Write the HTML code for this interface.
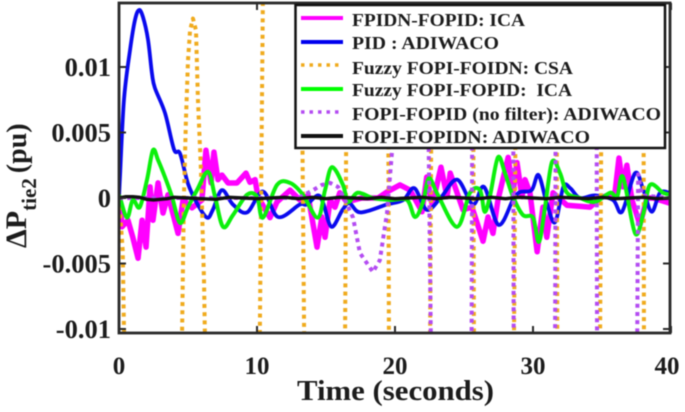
<!DOCTYPE html>
<html>
<head>
<meta charset="utf-8">
<title>Tie-line power deviation chart</title>
<style>
html,body{margin:0;padding:0;background:#fff;width:685px;height:412px;overflow:hidden}
svg{display:block;filter:blur(0.6px)}
text{font-family:"Liberation Serif",serif;font-weight:bold;fill:#1c1c1c}
</style>
</head>
<body>
<svg id="chart" xmlns="http://www.w3.org/2000/svg" width="685" height="412" viewBox="0 0 685 412">
  <defs><clipPath id="plot-clip"><rect x="119" y="3" width="551" height="330"/></clipPath></defs>
  <rect x="0" y="0" width="685" height="412" fill="#fff"/>
  <g id="series" clip-path="url(#plot-clip)"></g>
  <g id="axes"></g>
  <text x="297" y="400" font-size="29" textLength="197" lengthAdjust="spacingAndGlyphs">Time (seconds)</text>
  <text transform="translate(26,248) rotate(-90)" font-size="30">ΔP<tspan font-size="21" dy="10">tie2</tspan><tspan dy="-10" dx="5" font-size="28">(pu)</tspan></text>
  <g>
    <rect x="295.5" y="5" width="369.5" height="143" fill="#fff" stroke="#111" stroke-width="2.5"/>
    <line x1="301" x2="343" y1="18" y2="18" stroke="#ff00ff" stroke-width="4"/>
    <text x="352" y="26" font-size="18" textLength="173" lengthAdjust="spacingAndGlyphs">FPIDN-FOPID: ICA</text>
    <line x1="301" x2="343" y1="42" y2="42" stroke="#0000ee" stroke-width="4"/>
    <text x="352" y="49" font-size="18" textLength="147" lengthAdjust="spacingAndGlyphs">PID : ADIWACO</text>
    <line x1="301" x2="343" y1="65" y2="65" stroke="#f0ab1e" stroke-width="3.5" stroke-dasharray="3.5 5"/>
    <text x="352" y="74" font-size="18" textLength="221" lengthAdjust="spacingAndGlyphs">Fuzzy FOPI-FOIDN: CSA</text>
    <line x1="301" x2="343" y1="89" y2="89" stroke="#00ff00" stroke-width="4"/>
    <text x="352" y="96" font-size="18" textLength="220" lengthAdjust="spacingAndGlyphs" xml:space="preserve">Fuzzy FOPI-FOPID:  ICA</text>
    <line x1="301" x2="343" y1="112" y2="112" stroke="#b44cf2" stroke-width="3.5" stroke-dasharray="3.5 5"/>
    <text x="352" y="120" font-size="18" textLength="309" lengthAdjust="spacingAndGlyphs">FOPI-FOPID (no filter): ADIWACO</text>
    <line x1="301" x2="343" y1="136" y2="136" stroke="#111" stroke-width="4"/>
    <text x="352" y="143" font-size="18" textLength="238" lengthAdjust="spacingAndGlyphs">FOPI-FOPIDN: ADIWACO</text>
  </g>
</svg>
<script>
// All deviation values are in units of 0.001 pu; times are in seconds.
const xTickValues = [0, 10, 20, 30, 40];
const xTickLabels = ['0', '10', '20', '30', '40'];
const yTickValues = [-10, -5, 0, 5, 10];
const yTickLabels = ['-0.01', '-0.005', '0', '0.005', '0.01'];

const magentaTimes = [0,.07,.22,.65,1,1.38,1.67,1.96,2.25,2.46,2.83,3.19,3.55,4.28,4.64,5.29,6.01,6.3,6.67,6.88,7.17,7.46,7.9,8.55,9.2,9.49,9.86,10.07,10.94,11.45,12.4,13.1,13.7,14.35,14.7,14.93,15.3,15.65,16,16.5,17.6,18.77,19.4,20.36,21.1,21.96,22.3,22.7,23.33,23.77,24,24.93,25.58,26.38,26.74,27.1,27.46,28.2,28.55,28.84,29.2,29.42,29.78,30.3,30.72,31,31.45,32.46,34.13,34.86,35.94,36.23,36.52,36.8,37.17,37.75,38.26,38.7,39.93];
const magentaValues = [0,0,-2.2,-1.7,-3,-4.6,-1.7,-3.75,.85,-1.7,1.15,-1.15,.25,-2.7,-.15,-.75,-.15,3.65,1.15,3.5,1.4,1.75,1.15,1.15,1.9,1.2,1.4,.1,-1.5,-.3,.6,-.15,.2,-3.75,-1.45,-3,-.15,-.7,.4,-.3,0,0,.45,1,.6,-1.05,1.6,-.55,2.35,.1,1.9,-.9,-.7,-3.3,-1.45,-2.7,-.15,3.1,.4,2.7,.1,1.4,.4,-4.1,-.7,-3,.4,-.55,-.7,0,.4,3.05,.85,2.5,-.15,-2.05,0,0,-.4];

const blueTimes = [0,.07,.36,.8,1.16,1.45,1.74,2.1,2.39,2.6,3.33,3.99,4.42,5,5.65,6.38,6.8,7.46,8.26,9.28,10.43,11.52,13.1,13.6,14.4,14.8,15.4,16.2,16.7,17.5,19.4,20.6,21.4,22.3,23.3,24.5,25.65,26.45,27.5,28.55,29.05,29.9,30.4,31,31.6,32.2,32.7,33.4,34.5,35.8,36.45,37.4,38,38.6,39.2,39.9];
const blueValues = [0,1.6,7.5,11.3,13.6,14.35,13.8,12.1,9.5,8.4,6.5,3.7,3.4,1.1,-.4,-1.5,-.9,.6,-.5,-1.1,.5,-1.45,-.5,-.5,.2,-.4,-2.2,-.9,-.4,-1.1,-.5,-.15,.75,-.9,0,1.4,-.5,.85,-2.05,-.15,.45,.6,1.75,-.4,-1.85,.85,.75,0,.2,-.15,-1.05,1.9,.6,-1.05,.4,.4];

const orangeTimes = [0,.27,.36,.45,4.5,4.57,4.7,4.85,5,5.15,5.36,5.58,5.72,5.94,6.16,6.23,6.3,10.2,10.43,13.2,13.42,16.38,16.52,19.49,19.56,22.54,22.68,25.65,25.72,28.62,28.8,31.7,31.76,34.86,35,38,38.04,40];
const orangeValues = [0,-4,-10,-12,-12,-10.3,-.15,5.95,10.5,12.8,13.7,12.8,7.5,2.1,-6.3,-10.8,-12,-11,15.5,15.5,-11,-11,15.5,15.5,-11,-11,15.5,15.5,-11,-11,15.5,15.5,-11,-11,15.5,15.5,-11,-11];

const greenTimes = [0,.05,.58,1,1.5,2.03,2.46,2.83,3.33,3.84,4.42,5,5.65,6.45,6.96,7.54,8.26,9.28,10,10.43,11.45,12.4,13.33,14.4,14.93,15.43,16.23,16.6,17.3,18.4,19.64,20.87,21.45,22.03,22.46,23.1,24.5,25.43,26.16,26.5,26.9,27.46,27.97,28.55,29.27,30,30.43,30.87,31.38,31.96,32.46,33.4,34.5,35.58,36.1,36.52,37.4,38,38.48,39.42,39.93];
const greenValues = [0,.1,-1.5,-.15,-.7,1.4,3.65,2.9,1.6,.1,-1.9,-.7,.6,2,.1,-2.2,-1.3,.25,.1,-1.5,1,1.15,.25,-1.5,.6,2.35,1,-.3,.4,0,-.15,-.15,-1.45,-.3,1.5,.25,-2.2,.4,.6,-1.05,.25,3.1,1.9,.1,-1.3,-1.5,-3.35,-.7,2.75,1.9,.4,0,-.3,.4,.1,1.6,-2.7,-1.15,1,.4,.25];

const purpleTimes = [0,13,14.06,14.7,15.3,15.87,16.38,16.96,17.46,18.4,18.9,19.42,19.78,19.88,20,20.2,22.32,22.6,25.55,25.62,28.55,28.6,31.6,31.66,34.6,34.64,37.55,37.62,37.9,40];
const purpleValues = [0,0,.6,1,1.15,.85,-.15,-1.5,-4.2,-5.65,-4.75,-1.15,3.5,7.5,13.6,15.5,15.5,-11,-11,15.5,15.5,-11,-11,15.5,15.5,-11,-11,1.8,.2,0];

const blackTimes = [0,.5,1,1.5,2,2.5,3,3.5,4,5,6,7,8,9,10,11,12,13,14,15,16,17,18,19,20,21,22,23,24,25,26,27,28,29,30,31,32,33,34,35,36,37,38,39,40];
const blackValues = [0,.1,.1,.05,-.1,-.15,-.1,-.05,.05,0,-.05,-.1,.05,0,-.05,0,.05,-.05,.05,-.05,.05,0,-.05,.05,-.05,0,.05,-.05,.05,0,-.05,.05,-.05,.05,0,-.05,.05,0,-.05,.05,-.05,0,.05,-.05,0];

const svgNS = 'http://www.w3.org/2000/svg';
const seriesGroup = document.getElementById('series');
const axesGroup = document.getElementById('axes');

function xScale(t) { return 119 + t * 13.8; }
function yScale(v) { return 198 - v * 13.1; }

function pathFrom(times, values, smooth) {
  const px = times.map(xScale);
  const py = values.map(yScale);
  let d = 'M' + px[0].toFixed(2) + ' ' + py[0].toFixed(2);
  for (let i = 1; i < px.length; i++) {
    if (smooth) {
      const a = Math.max(i - 2, 0);
      const b = Math.min(i + 1, px.length - 1);
      const c1x = px[i - 1] + (px[i] - px[a]) / 6;
      const c1y = py[i - 1] + (py[i] - py[a]) / 6;
      const c2x = px[i] - (px[b] - px[i - 1]) / 6;
      const c2y = py[i] - (py[b] - py[i - 1]) / 6;
      d += 'C' + c1x.toFixed(2) + ' ' + c1y.toFixed(2) + ' ' + c2x.toFixed(2) + ' ' + c2y.toFixed(2) + ' ' + px[i].toFixed(2) + ' ' + py[i].toFixed(2);
    } else {
      d += 'L' + px[i].toFixed(2) + ' ' + py[i].toFixed(2);
    }
  }
  return d;
}

function drawSeries(name, times, values, color, width, dash, smooth) {
  const path = document.createElementNS(svgNS, 'path');
  
  
  path.setAttribute('d', pathFrom(times, values, smooth));
  path.setAttribute('fill', 'none');
  path.setAttribute('stroke', color);
  path.setAttribute('stroke-width', width);
  path.setAttribute('stroke-linejoin', 'round');
  if (dash) path.setAttribute('stroke-dasharray', dash);
  seriesGroup.appendChild(path);
}

drawSeries('series-fpidn-fopid-ica', magentaTimes, magentaValues, '#ff00ff', 5.5, null, false);
drawSeries('series-pid-adiwaco', blueTimes, blueValues, '#0a0aee', 3.8, null, true);
drawSeries('series-fuzzy-fopi-foidn-csa', orangeTimes, orangeValues, '#f0ab1e', 4, '4 4.2', false);
drawSeries('series-fuzzy-fopi-fopid-ica', greenTimes, greenValues, '#0cf00c', 4, null, true);
drawSeries('series-fopi-fopid-no-filter', purpleTimes, purpleValues, '#b44cf2', 4, '4 4.2', false);
drawSeries('series-fopi-fopidn-adiwaco', blackTimes, blackValues, '#111111', 3.4, null, false);

function addLine(name, x1, y1, x2, y2, width) {
  const line = document.createElementNS(svgNS, 'line');
  
  
  line.setAttribute('x1', x1);
  line.setAttribute('y1', y1);
  line.setAttribute('x2', x2);
  line.setAttribute('y2', y2);
  line.setAttribute('stroke', '#2a2a2a');
  line.setAttribute('stroke-width', width);
  axesGroup.appendChild(line);
}

function addText(name, x, y, anchor, size, content) {
  const label = document.createElementNS(svgNS, 'text');
  
  
  label.setAttribute('x', x);
  label.setAttribute('y', y);
  label.setAttribute('text-anchor', anchor);
  label.setAttribute('font-size', size);
  label.textContent = content;
  axesGroup.appendChild(label);
}

const frame = document.createElementNS(svgNS, 'rect');


frame.setAttribute('x', 119);
frame.setAttribute('y', 3);
frame.setAttribute('width', 551);
frame.setAttribute('height', 330);
frame.setAttribute('fill', 'none');
frame.setAttribute('stroke', '#2a2a2a');
frame.setAttribute('stroke-width', 2.8);
axesGroup.appendChild(frame);

xTickValues.forEach(function (value, i) {
  const x = xScale(value);
  addLine('x-tick-bottom', x, 333, x, 326, 2);
  addLine('x-tick-top', x, 3, x, 10, 2);
  addText('x-tick-label', i === xTickValues.length - 1 ? x - 4 : x, 374, 'middle', 25, xTickLabels[i]);
});

yTickValues.forEach(function (value, i) {
  const y = yScale(value);
  addLine('y-tick-left', 119, y, 126, y, 2);
  addLine('y-tick-right', 670, y, 663, y, 2);
  addText('y-tick-label', 111, y + 9, 'end', 26.5, yTickLabels[i]);
});
</script>
</body>
</html>
